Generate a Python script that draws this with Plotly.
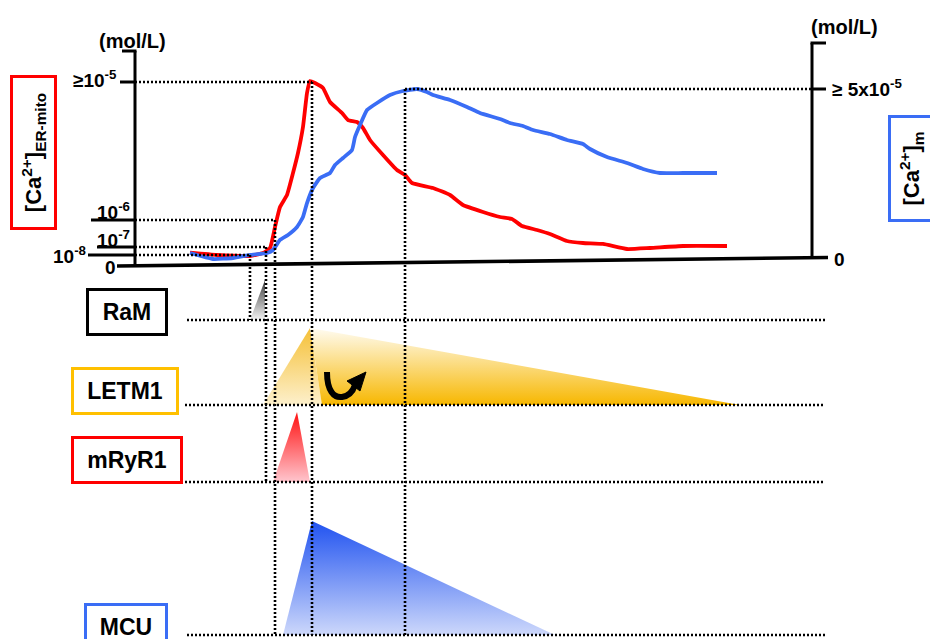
import plotly.graph_objects as go

W, H = 930, 639
FONT = "Liberation Sans, Arial, Helvetica, sans-serif"

# ---------------- data ----------------
# time axis: arbitrary units (a.u.)
red_t = [0.0, 5.03, 11.17, 13.59, 14.90, 15.83, 16.76, 18.06, 19.18, 20.11, 21.04,
         21.79, 22.35, 23.28, 24.77, 26.07, 28.31, 29.42, 31.10, 32.22, 33.52, 35.94,
         38.55, 40.04, 41.34, 45.25, 48.42, 50.84, 54.56, 57.73, 59.96, 61.82, 64.62,
         67.04, 70.20, 73.18, 76.91, 81.38, 85.66, 91.81, 100.0]
# [Ca2+]ER-mito on the schematic (non-linear) display scale
red_level = [6.72, 5.46, 4.92, 6.56, 9.29, 20.77, 31.69, 38.25, 50.27, 61.20, 75.41,
             93.99, 100.55, 99.45, 96.72, 89.07, 83.06, 79.23, 78.14, 74.86, 68.31, 60.11,
             51.91, 49.18, 44.81, 42.08, 38.25, 32.79, 28.96, 26.23, 25.14, 21.31, 19.13,
             16.94, 13.11, 12.02, 11.48, 8.74, 9.29, 10.38, 10.38]

blue_t = [0.0, 4.28, 8.01, 11.17, 14.34, 15.46, 16.76, 18.25, 19.93, 21.04, 21.79,
          22.91, 24.21, 26.07, 27.00, 28.49, 30.17, 30.73, 31.66, 32.96, 34.82, 37.24,
          39.66, 42.27, 44.13, 45.25, 48.42, 51.58, 54.00, 57.73, 59.59, 62.01, 63.87,
          67.04, 70.20, 73.18, 74.49, 77.65, 81.38, 84.36, 87.52, 91.81, 98.14]
# [Ca2+]m in units of 10^-5 mol/L
blue_conc = [0.148, -0.030, 0.0, 0.089, 0.148, 0.237, 0.533, 0.680, 0.917, 1.213, 1.627,
             2.071, 2.367, 2.515, 2.751, 2.959, 3.195, 3.580, 3.935, 4.379, 4.586, 4.822,
             4.941, 5.000, 4.911, 4.822, 4.675, 4.467, 4.290, 4.112, 3.994, 3.905, 3.787,
             3.669, 3.491, 3.373, 3.225, 2.988, 2.811, 2.633, 2.515, 2.515, 2.515]

left_tick_levels = [0, 5.5, 9.8, 24.6, 100]
left_tick_text = ["0", "10<sup>-8</sup>", "10<sup>-7</sup>", "10<sup>-6</sup>", "≥10<sup>-5</sup>"]
right_tick_values = [0, 5.0]
right_tick_text = ["0", "≥ 5x10<sup>-5</sup>"]

channels = ["RaM", "LETM1", "mRyR1", "MCU"]

# relative activity profiles of the transport pathways (0 = off, 1 = maximal)
ram_t = [11.17, 13.97, 13.97]
ram_a = [0, 1, 0]
letm1_rise_t = [13.59, 22.35, 24.58]
letm1_rise_a = [0, 1, 0]
letm1_decay_t = [22.35, 24.58, 102.42]
letm1_decay_a = [1, 0, 0]
mryr1_t = [15.46, 19.93, 22.35]
mryr1_a = [0, 1, 0]
mcu_t = [17.32, 22.72, 67.97]
mcu_a = [0, 1, 0]

# marker times: RaM onset, LETM1 onset, mRyR1 onset, ER-mito peak, matrix peak
event_t = [11.17, 14.15, 15.83, 22.72, 40.04]

# ---------------- geometry helpers ----------------
T0_PX, PX_PER_T = 190, 5.37


def t_of_px(px):
    return (px - T0_PX) / PX_PER_T


def px_of_t(t):
    return T0_PX + t * PX_PER_T


def pxp(px):
    return px / W


def pyp(py):
    return 1 - py / H


# axis specs: zero pixel row, pixels per unit, top row, bottom row
AX = {
    "y":  dict(zero=265, unit=1.83, top=40, bot=275),
    "y2": dict(zero=258, unit=33.8, top=40, bot=275),
    "y3": dict(zero=320, unit=40, top=270, bot=330),
    "y4": dict(zero=405, unit=77, top=318, bot=414),
    "y5": dict(zero=482, unit=70, top=402, bot=490),
    "y6": dict(zero=635, unit=114, top=510, bot=639),
}


def ax_range(k):
    a = AX[k]
    return [(a["zero"] - a["bot"]) / a["unit"], (a["zero"] - a["top"]) / a["unit"]]


def ax_domain(k):
    a = AX[k]
    return [pyp(a["bot"]), pyp(a["top"])]


def val_py(k, v):
    a = AX[k]
    return a["zero"] - v * a["unit"]


fig = go.Figure()


def tri(t, a, yaxis, bottom, top, name):
    fig.add_trace(go.Scatter(
        x=t + [t[0]], y=a + [a[0]], mode="none", fill="toself", yaxis=yaxis,
        fillgradient=dict(type="vertical", colorscale=[[0, bottom], [1, top]],
                          start=0, stop=1),
        hoverinfo="skip", showlegend=False, name=name))


tri(ram_t, ram_a, "y3", "#f4f4f4", "#3c3c3c", "RaM")
tri(letm1_rise_t, letm1_rise_a, "y4", "#fdf0cc", "#f5c036", "LETM1 rise")
tri(letm1_decay_t, letm1_decay_a, "y4", "#f7b700", "#fffcf2", "LETM1")
tri(mryr1_t, mryr1_a, "y5", "#ffc6ce", "#ff1010", "mRyR1")
tri(mcu_t, mcu_a, "y6", "#cdd8fb", "#2052f0", "MCU")

fig.add_trace(go.Scatter(x=red_t, y=red_level, mode="lines", yaxis="y",
                         line=dict(color="#ff0000", width=3.8, shape="spline", smoothing=0.4),
                         hoverinfo="skip", showlegend=False, name="[Ca2+]ER-mito"))
fig.add_trace(go.Scatter(x=blue_t, y=blue_conc, mode="lines", yaxis="y2",
                         line=dict(color="#3a6df5", width=3.8, shape="spline", smoothing=0.4),
                         hoverinfo="skip", showlegend=False, name="[Ca2+]m"))

# ---------------- shapes ----------------
shapes = []
SOLID = dict(color="black", width=3)
DOT = dict(color="black", width=2.6, dash="2px,2px")


def pline(x0, y0, x1, y1, line):
    shapes.append(dict(type="line", xref="paper", yref="paper",
                       x0=pxp(x0), y0=pyp(y0), x1=pxp(x1), y1=pyp(y1), line=line))


LX, RX = 135, 812
# left axis
pline(LX, 51, LX, 266, SOLID)
pline(122, 51, LX + 1.5, 51, SOLID)
tick_x0 = {5.5: 88, 9.8: 97, 24.6: 91, 100: 120}
for lv in left_tick_levels[1:]:
    pline(tick_x0[lv], val_py("y", lv), LX, val_py("y", lv), SOLID)
# baseline (slightly tilted)
pline(117, 266, 828, 257.5, dict(color="black", width=3.6))
# right axis
pline(RX, 43, RX, 258, SOLID)
pline(RX - 1.5, 43, 826, 43, SOLID)
pline(RX, val_py("y2", 5.0), 826, val_py("y2", 5.0), SOLID)

# horizontal dotted guides to the event times
guide_pairs = [(100, 3), (24.6, 2), (9.8, 1), (5.5, 0)]
for lv, ei in guide_pairs:
    pline(LX, val_py("y", lv), px_of_t(event_t[ei]), val_py("y", lv), DOT)
pline(px_of_t(event_t[4]), val_py("y2", 5.0), RX, val_py("y2", 5.0), DOT)

# vertical dotted guides
v_tops = [val_py("y", 5.5), val_py("y", 9.8), val_py("y", 24.6), val_py("y", 100), val_py("y2", 5.0)]
v_bots = [val_py("y3", 0), val_py("y5", 0), val_py("y6", 0), val_py("y6", 0), val_py("y6", 0)]
for et, y0, y1 in zip(event_t, v_tops, v_bots):
    pline(px_of_t(et), y0, px_of_t(et), y1, DOT)

# panel baselines
for k, x0 in [("y3", 187), ("y4", 185), ("y5", 185), ("y6", 187)]:
    pline(x0, val_py(k, 0), 825, val_py(k, 0), DOT)


def ppath(cmds):
    out = []
    for c in cmds:
        if isinstance(c, str):
            out.append(c)
        else:
            out.append(f"{pxp(c[0]):.5f},{pyp(c[1]):.5f}")
    return " ".join(out)


# curly arrow inside LETM1
shapes.append(dict(type="path", xref="paper", yref="paper",
                   path=ppath(["M", (327, 372), "C", (327, 391), (334, 398), (342, 397),
                               "C", (349, 396), (353, 391), (355, 385)]),
                   line=dict(color="black", width=6)))
shapes.append(dict(type="path", xref="paper", yref="paper",
                   path=ppath(["M", (347, 381), "L", (366, 372), "L", (360, 391), "Z"]),
                   fillcolor="black", line=dict(color="black", width=1)))

# ---------------- annotations ----------------
ann = []


def label(text, x, y, xanchor="center", yanchor="middle", size=19, **kw):
    ann.append(dict(text=text, xref="paper", yref="paper", x=pxp(x), y=pyp(y),
                    xanchor=xanchor, yanchor=yanchor, showarrow=False,
                    font=dict(family=FONT, size=size, color="black"), **kw))


# left tick labels
lt = dict(zip(left_tick_levels, left_tick_text))
label("<b>" + lt[0] + "</b>", 118, 267, xanchor="right")
label("<b>" + lt[5.5] + "</b>", 88, 255, xanchor="right")
label("<b>" + lt[9.8] + "</b>", 132, val_py("y", 9.8) + 5.5, xanchor="right", yanchor="bottom")
label("<b>" + lt[24.6] + "</b>", 132, val_py("y", 24.6) + 5.5, xanchor="right", yanchor="bottom")
label("<b>" + lt[100] + "</b>", 119, val_py("y", 100) - 3, xanchor="right")
label("<b>(mol/L)</b>", 132, 41, size=20)
# right tick labels
rt = dict(zip(right_tick_values, right_tick_text))
label("<b>" + rt[0] + "</b>", 832, 259, xanchor="left")
label("<b>" + rt[5.0] + "</b>", 830, val_py("y2", 5.0) - 1, xanchor="left", size=19)
label("<b>(mol/L)</b>", 844, 27, size=20)

# boxed titles
label("<b>[Ca<sup>2+</sup>]<sub>ER-mito</sub></b>", 33.5, 152.5, size=22, textangle=-90,
      width=149, height=41, bordercolor="#ff0000", borderwidth=3, borderpad=0)
label("<b>[Ca<sup>2+</sup>]<sub>m</sub></b>", 911.5, 168.5, size=22, textangle=-90,
      width=101, height=41, bordercolor="#3a6df5", borderwidth=3, borderpad=0)

box_specs = {
    "RaM": (127, 312, 76, "black"),
    "LETM1": (125, 391, 102, "#ffc000"),
    "mRyR1": (127, 460, 106, "#ff0000"),
    "MCU": (126, 627, 78, "#3a6df5"),
}
for name in channels:
    cx, cy, w, col = box_specs[name]
    label("<b>" + name + "</b>", cx, cy, size=23, width=w, height=42,
          bordercolor=col, borderwidth=3, borderpad=0)

# ---------------- layout ----------------
hidden = dict(visible=False, fixedrange=True)
fig.update_layout(
    width=W, height=H, autosize=False,
    margin=dict(l=0, r=0, t=0, b=0, pad=0),
    paper_bgcolor="white", plot_bgcolor="rgba(0,0,0,0)",
    showlegend=False, hovermode=False,
    xaxis=dict(domain=[0, 1], range=[t_of_px(0), t_of_px(W)], **hidden),
    yaxis=dict(domain=ax_domain("y"), range=ax_range("y"), **hidden),
    yaxis2=dict(domain=ax_domain("y2"), range=ax_range("y2"), anchor="x", **hidden),
    yaxis3=dict(domain=ax_domain("y3"), range=ax_range("y3"), anchor="x", **hidden),
    yaxis4=dict(domain=ax_domain("y4"), range=ax_range("y4"), anchor="x", **hidden),
    yaxis5=dict(domain=ax_domain("y5"), range=ax_range("y5"), anchor="x", **hidden),
    yaxis6=dict(domain=ax_domain("y6"), range=ax_range("y6"), anchor="x", **hidden),
    shapes=shapes, annotations=ann,
)

fig.write_html("out.html", config={"displayModeBar": False},
               post_script="document.body.style.margin='0px';"
                           "document.body.style.overflow='hidden';")
